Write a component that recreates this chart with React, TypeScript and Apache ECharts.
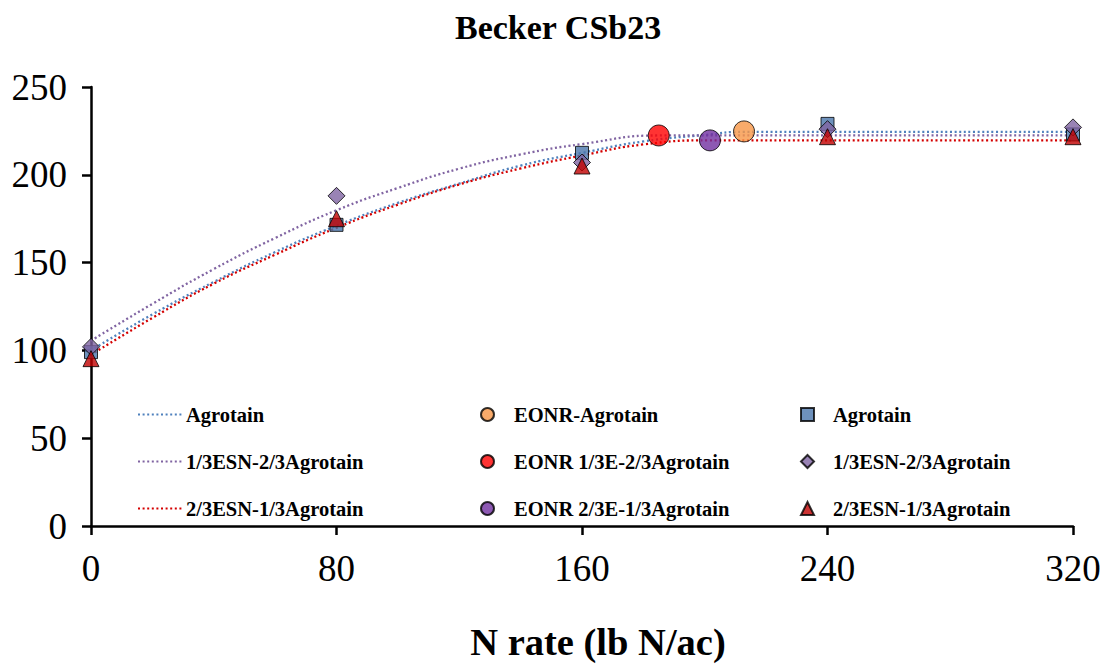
import React, { useEffect, useRef } from "react";
import * as echarts from "echarts";

const FONT = "'Liberation Serif', 'Times New Roman', serif";

// Fitted response curves: [N rate, yield]
const curveAgrotain: number[][] = [
  [0, 100], [20, 120.5], [40, 139], [60, 156], [80, 171], [100, 184], [120, 195],
  [140, 205.2], [160, 212.5], [180, 219], [200, 222.7], [212.8, 224.5], [320, 224.5],
];
const curve13ESN: number[][] = [
  [0, 105.5], [20, 126.5], [40, 146.3], [60, 164], [80, 179.8], [100, 192.5], [120, 203.5],
  [140, 211.6], [160, 217.5], [185, 222.4], [320, 222.4],
];
const curve23ESN: number[][] = [
  [0, 97.5], [20, 118.5], [40, 138], [60, 154.5], [80, 169.8], [100, 183], [120, 194.5],
  [140, 203.6], [160, 211], [180, 217.3], [201.7, 219.6], [320, 219.6],
];

// EONR points
const eonrAgrotain: number[][] = [[212.8, 224.7]];
const eonr13: number[][] = [[185, 222.4]];
const eonr23: number[][] = [[201.7, 219.6]];

// Observed means
const nRates = [0, 80, 160, 240, 320];
const obsAgrotain = [99, 171.5, 212.5, 229, 223];
const obs13ESN = [102, 188, 207, 226, 227];
const obs23ESN = [95.3, 175, 205, 221.7, 221.7];

const xTicks = { min: 0, max: 320, interval: 80 };
const yTicks = { min: 0, max: 250, interval: 50 };

const lineNames = ["Agrotain", "1/3ESN-2/3Agrotain", "2/3ESN-1/3Agrotain"];
const eonrNames = ["EONR-Agrotain", "EONR 1/3E-2/3Agrotain", "EONR 2/3E-1/3Agrotain"];
const ptNames = ["pt:Agrotain", "pt:1/3ESN-2/3Agrotain", "pt:2/3ESN-1/3Agrotain"];

const pairs = (ys: number[]) => nRates.map((x, i) => [x, ys[i]]);

export default function App() {
  const ref = useRef<HTMLDivElement>(null);
  useEffect(() => {
    if (!ref.current) return;
    const chart = echarts.init(ref.current, undefined, { renderer: "svg" });
    const dotted = (color: string) => ({
      color,
      width: 2.3,
      type: [2, 2.6] as any,
      cap: "butt" as const,
    });
    const lineSeries = (name: string, data: number[][], color: string) => ({
      name,
      type: "line",
      data,
      smooth: true,
      symbol: "none",
      showSymbol: false,
      color,
      lineStyle: dotted(color),
      z: 2,
    });
    const scat = (name: string, data: number[][], color: string, symbol: string, size: number, z: number) => ({
      name,
      type: "scatter",
      data,
      symbol,
      symbolSize: size,
      color,
      itemStyle: { color, borderColor: "#000", borderWidth: 1 },
      z,
    });
    const legendText = {
      fontFamily: FONT,
      fontWeight: "bold" as const,
      fontSize: 20.5,
      color: "#000",
      lineHeight: 21,
    };
    const option: any = {
      animation: false,
      backgroundColor: "#fff",
      title: {
        text: "Becker CSb23",
        left: 455,
        top: 10,
        padding: 0,
        textStyle: { fontFamily: FONT, fontWeight: "bold", fontSize: 34, color: "#000" },
      },
      grid: { left: 91, right: 33, top: 87, bottom: 135, containLabel: false },
      legend: [
        {
          data: lineNames,
          orient: "vertical",
          left: 132,
          top: 399,
          itemGap: 26,
          itemWidth: 45,
          itemHeight: 14,
          selectedMode: false,
          itemStyle: { opacity: 0 },
          textStyle: { ...legendText, padding: [0, 0, 0, -2] },
        },
        {
          data: eonrNames,
          orient: "vertical",
          left: 475,
          top: 399,
          itemGap: 26,
          itemWidth: 13,
          itemHeight: 13,
          selectedMode: false,
          textStyle: { ...legendText, padding: [0, 0, 0, 15] },
        },
        {
          data: ptNames,
          orient: "vertical",
          left: 795,
          top: 399,
          itemGap: 26,
          itemWidth: 13,
          itemHeight: 13,
          selectedMode: false,
          formatter: (n: string) => n.replace("pt:", ""),
          textStyle: { ...legendText, padding: [0, 0, 0, 14] },
        },
      ],
      xAxis: {
        type: "value",
        ...xTicks,
        name: "N rate (lb N/ac)",
        nameLocation: "middle",
        nameGap: 96,
        nameTextStyle: {
          fontFamily: FONT,
          fontWeight: "bold",
          fontSize: 38.5,
          color: "#000",
          padding: [0, 0, 0, 32],
        },
        axisLine: { show: true, onZero: false, lineStyle: { color: "#000", width: 2.5 } },
        axisTick: { show: true, length: 9, lineStyle: { color: "#000", width: 2.5 } },
        axisLabel: { margin: 24, fontFamily: FONT, fontSize: 37, color: "#000" },
        splitLine: { show: false },
      },
      yAxis: {
        type: "value",
        ...yTicks,
        axisLine: { show: true, lineStyle: { color: "#000", width: 2.5 } },
        axisTick: { show: true, length: 9, lineStyle: { color: "#000", width: 2.5 } },
        axisLabel: { margin: 24, fontFamily: FONT, fontSize: 37, color: "#000" },
        splitLine: { show: false },
      },
      series: [
        lineSeries(lineNames[0], curveAgrotain, "#4F81BD"),
        lineSeries(lineNames[1], curve13ESN, "#8064A2"),
        lineSeries(lineNames[2], curve23ESN, "#D40000"),
        scat(eonrNames[0], eonrAgrotain, "#F79646", "circle", 21, 5),
        scat(eonrNames[1], eonr13, "#FF0000", "circle", 21, 5),
        scat(eonrNames[2], eonr23, "#7030A0", "circle", 21, 5),
        scat(ptNames[0], pairs(obsAgrotain), "#4A76AB", "rect", 13, 6),
        scat(ptNames[1], pairs(obs13ESN), "#8064A2", "diamond", 17, 7),
        scat(ptNames[2], pairs(obs23ESN), "#C00000", "triangle", 16, 8),
      ],
    };
    chart.setOption(option);
    return () => chart.dispose();
  }, []);
  return (
    <div
      ref={ref}
      style={{ position: "fixed", left: 0, top: 0, width: 1106, height: 666 }}
    />
  );
}
